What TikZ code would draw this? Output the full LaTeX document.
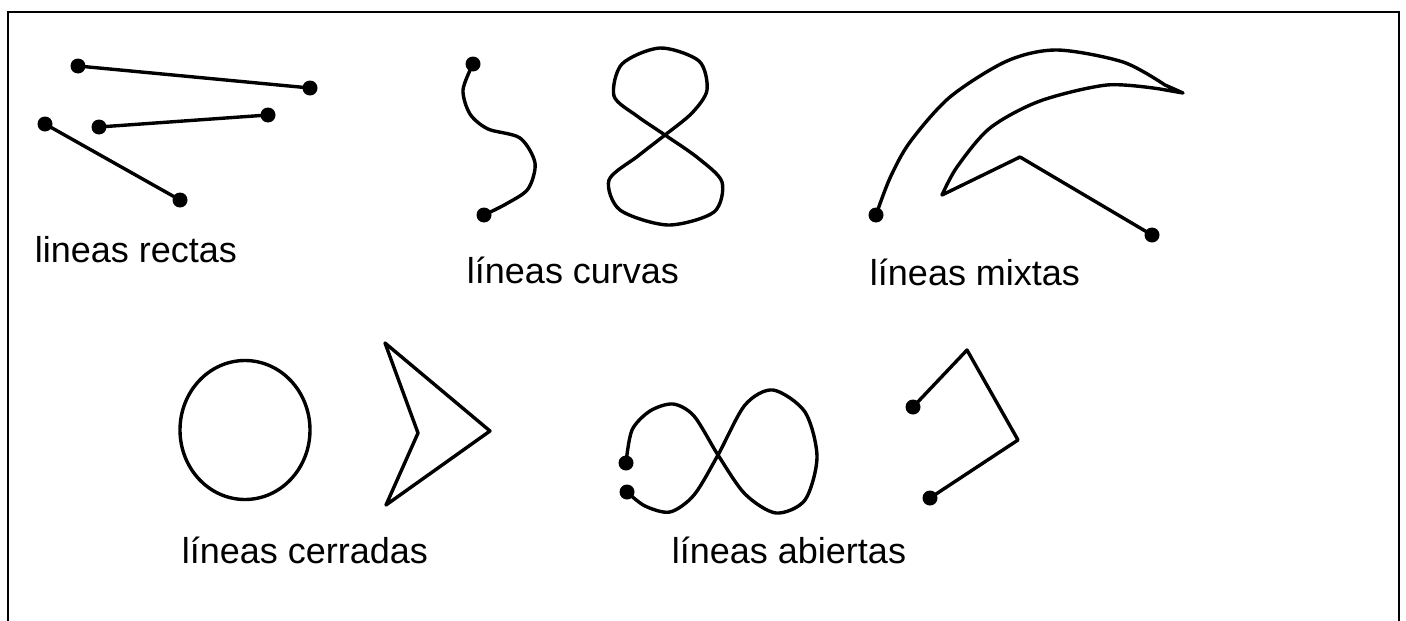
\documentclass[tikz,border=0pt]{standalone}
\usepackage{fontspec}
\setmainfont{Liberation Sans}
\usetikzlibrary{shapes.geometric}
\begin{document}
\begin{tikzpicture}[x=1pt,y=-1pt,
  shape line/.style={line width=3.4pt, line join=round, line cap=round},
  dotmark/.style={circle, fill=black, inner sep=0pt, minimum size=15pt},
  lbl/.style={anchor=base, inner sep=0pt, font=\fontsize{36}{43}\selectfont},
  frameline/.style={line width=2.2pt}]
\useasboundingbox (0,0) rectangle (1406,621);
% frame
\coordinate (fbl) at (8,621);
\coordinate (ftl) at (8,12);
\coordinate (ftr) at (1399,12);
\coordinate (fbr) at (1399,621);
\draw[frameline] (fbl) -- (ftl) -- (ftr) -- (fbr);

% straight lines
\node[dotmark] (r1a) at (78,66) {};
\node[dotmark] (r1b) at (310,88) {};
\node[dotmark] (r2a) at (99,127) {};
\node[dotmark] (r2b) at (268,115) {};
\node[dotmark] (r3a) at (45,124) {};
\node[dotmark] (r3b) at (180,200) {};
\draw[shape line] (r1a.center) -- (r1b.center);
\draw[shape line] (r2a.center) -- (r2b.center);
\draw[shape line] (r3a.center) -- (r3b.center);
\node[lbl] (lrectas) at (136,262) {lineas rectas};

% curved lines
\node[dotmark] (s1) at (473,64) {};
\node[dotmark] (s2) at (484,215) {};
\draw[shape line] plot[smooth] coordinates {(s1.center) (463,90) (470,114) (488,129) (520,138) (535,163) (528,189) (506,204) (s2.center)};
\coordinate (c8) at (665,135);
\draw[shape line] plot[smooth cycle] coordinates {(c8) (637,116) (614,96) (622,64) (660,48) (699,61) (707,90) (692,113) (c8) (638,156) (609,180) (620,210) (668,225) (714,212) (722,182) (698,158)};
\node[lbl] (lcurvas) at (573,283) {líneas curvas};

% mixed lines
\node[dotmark] (m1) at (876,215) {};
\node[dotmark] (m2) at (1152,235) {};
\coordinate (mtip) at (1183,93);
\coordinate (mcorner) at (1020,157);
\coordinate (minner) at (942,195);
\draw[shape line] plot[smooth] coordinates {(m1.center) (890,178) (910,142) (950,97) (1007,61) (1057,50) (1123,62) (1165,85)} -- (mtip) -- plot[smooth] coordinates {(1160,89) (1107,85) (1040,101) (990,128) (957,167) (minner)} -- (mcorner) -- (m2.center);
\node[lbl] (lmixtas) at (975,285) {líneas mixtas};

% closed lines
\node[draw, shape line, ellipse, minimum width=130pt, minimum height=139pt, inner sep=0pt] (circ) at (245,430) {};
\coordinate (k1) at (385,343);
\coordinate (k2) at (490,431);
\coordinate (k3) at (386,505);
\coordinate (k4) at (418,433);
\draw[shape line] (k1) -- (k2) -- (k3) -- (k4) -- cycle;
\node[lbl] (lcerradas) at (305,563) {líneas cerradas};

% open lines
\node[dotmark] (o1) at (626,463) {};
\node[dotmark] (o2) at (627,492) {};
\coordinate (oc) at (718,455);
\draw[shape line] plot[smooth] coordinates {(o1.center) (632,430) (650,411) (673,404) (694,416) (oc) (745,494) (776,513) (805,500) (817,457) (805,412) (773,390) (745,405) (oc) (694,495) (670,512) (645,506) (o2.center)};
\node[dotmark] (p1) at (913,407) {};
\node[dotmark] (p2) at (930,498) {};
\coordinate (pq1) at (967,350);
\coordinate (pq2) at (1018,440);
\draw[shape line] (p1.center) -- (pq1) -- (pq2) -- (p2.center);
\node[lbl] (labiertas) at (789,563) {líneas abiertas};
\end{tikzpicture}
\end{document}
